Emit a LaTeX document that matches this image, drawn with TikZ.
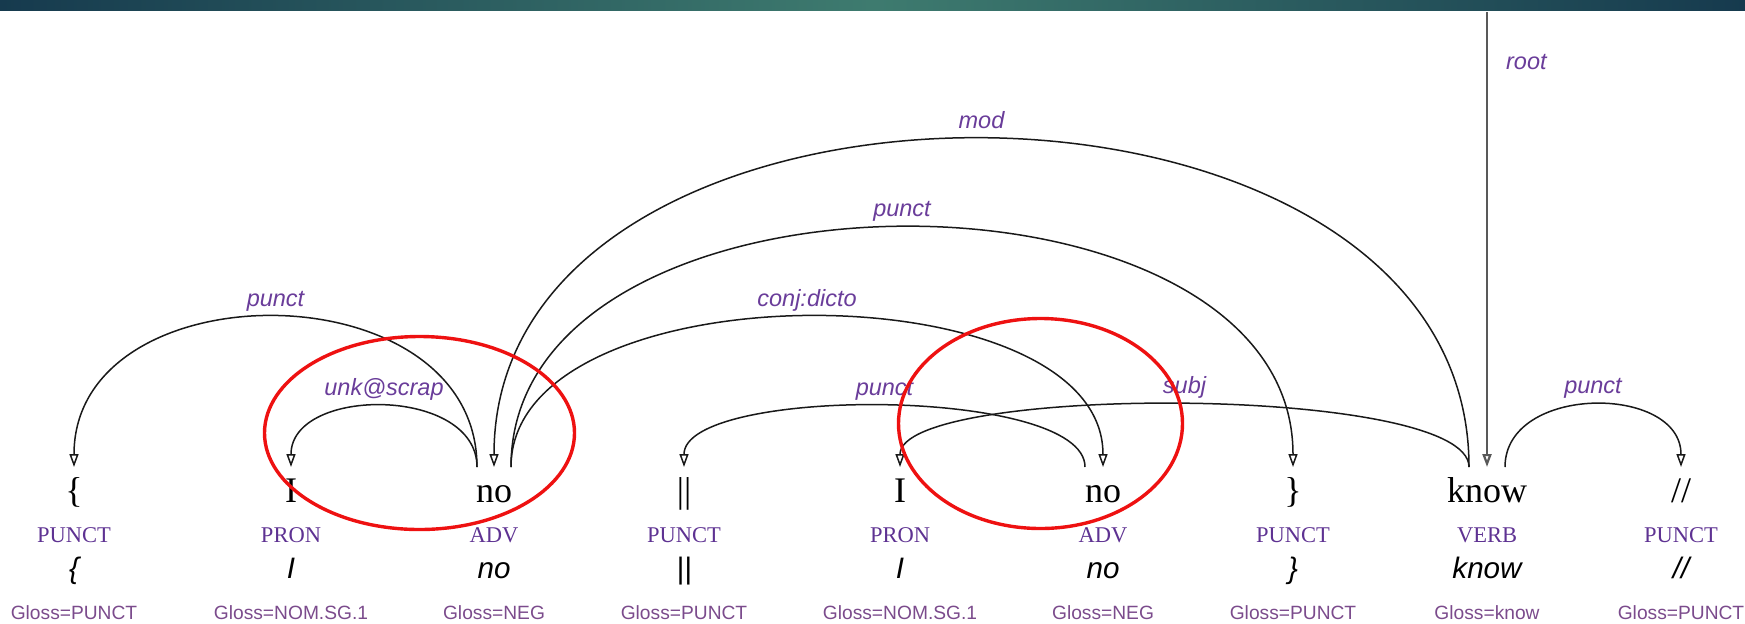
\documentclass[tikz,border=0pt]{standalone}
\usepackage{fontspec}
\setmainfont{Liberation Serif}
\setsansfont{Liberation Sans}
\usepackage{tikz}
\usetikzlibrary{arrows.meta}

\definecolor{bardark}{HTML}{163A4E}
\definecolor{barlight}{HTML}{3E7B6F}
\definecolor{posviolet}{HTML}{5E3292}
\definecolor{deppurple}{HTML}{6A3D9A}
\definecolor{glosspurple}{HTML}{7B4B8C}
\definecolor{ringred}{HTML}{EE1111}

\tikzset{
  word/.style={font=\fontsize{18}{18}\selectfont, anchor=base, inner sep=0pt, text height=12.5pt, text depth=3pt, outer ysep=5pt},
  upos/.style={font=\fontsize{11.25}{12}\selectfont, text=posviolet, anchor=base, inner sep=0pt},
  lemma/.style={font=\sffamily\itshape\fontsize{14.8}{15}\selectfont, anchor=base, inner sep=0pt},
  gloss/.style={font=\sffamily\fontsize{9.6}{10}\selectfont, text=glosspurple, anchor=base, inner sep=0pt},
  deplabel/.style={font=\sffamily\itshape\fontsize{11.75}{12}\selectfont, text=deppurple, inner sep=0pt, anchor=base, yshift=5.5pt},
  dep/.style={draw=black!90, line width=0.75pt, -{Triangle[open, length=6.5pt, width=4.5pt]}},
  ringed/.style={draw=ringred, line width=1.7pt}
}

\begin{document}
\begin{tikzpicture}[x=0.5pt, y=-0.5pt]
\useasboundingbox (0,0) rectangle (1745,623);
\shade [left color=bardark, right color=bardark, middle color=barlight] (0,0) rectangle (1745,10);

\node [word] (lbrace) at (74,502) {\{};
\node [word] (pron1) at (291,502) {I};
\node [word] (neg1) at (494,502) {no};
\node [word] (bars) at (684,502) {||};
\node [word] (pron2) at (900,502) {I};
\node [word] (neg2) at (1103,502) {no};
\node [word] (rbrace) at (1293,502) {\}};
\node [word] (know) at (1487,502) {know};
\node [word] (slash) at (1681,502) {//};

\node [upos] (lbrace-upos) at (74,542) {PUNCT};
\node [upos] (pron1-upos) at (291,542) {PRON};
\node [upos] (neg1-upos) at (494,542) {ADV};
\node [upos] (bars-upos) at (684,542) {PUNCT};
\node [upos] (pron2-upos) at (900,542) {PRON};
\node [upos] (neg2-upos) at (1103,542) {ADV};
\node [upos] (rbrace-upos) at (1293,542) {PUNCT};
\node [upos] (know-upos) at (1487,542) {VERB};
\node [upos] (slash-upos) at (1681,542) {PUNCT};

\node [lemma] (lbrace-lemma) at (74,578) {\{};
\node [lemma] (pron1-lemma) at (291,578) {I};
\node [lemma] (neg1-lemma) at (494,578) {no};
\node [lemma] (bars-lemma) at (684,578) {||};
\node [lemma] (pron2-lemma) at (900,578) {I};
\node [lemma] (neg2-lemma) at (1103,578) {no};
\node [lemma] (rbrace-lemma) at (1293,578) {\}};
\node [lemma] (know-lemma) at (1487,578) {know};
\node [lemma] (slash-lemma) at (1681,578) {//};

\node [gloss] (lbrace-gloss) at (74,619) {Gloss=PUNCT};
\node [gloss] (pron1-gloss) at (291,619) {Gloss=NOM.SG.1};
\node [gloss] (neg1-gloss) at (494,619) {Gloss=NEG};
\node [gloss] (bars-gloss) at (684,619) {Gloss=PUNCT};
\node [gloss] (pron2-gloss) at (900,619) {Gloss=NOM.SG.1};
\node [gloss] (neg2-gloss) at (1103,619) {Gloss=NEG};
\node [gloss] (rbrace-gloss) at (1293,619) {Gloss=PUNCT};
\node [gloss] (know-gloss) at (1487,619) {Gloss=know};
\node [gloss] (slash-gloss) at (1681,619) {Gloss=PUNCT};

\draw [dep] ([xshift=-9pt]know.north) .. controls +(0,-437) and +(0,-437) .. (neg1.north) node [deplabel, midway] {mod};
\draw [dep] ([xshift=8.5pt]neg1.north) .. controls +(0,-319) and +(0,-319) .. (rbrace.north) node [deplabel, midway] {punct};
\draw [dep] ([xshift=-8.5pt]neg1.north) .. controls +(0,-200) and +(0,-200) .. (lbrace.north) node [deplabel, midway] {punct};
\draw [dep] ([xshift=8.5pt]neg1.north) .. controls +(0,-200) and +(0,-200) .. (neg2.north) node [deplabel, midway] {conj:dicto};
\draw [dep] ([xshift=-8.5pt]neg1.north) .. controls +(0,-81) and +(0,-81) .. (pron1.north) node [deplabel, midway] {unk@scrap};
\draw [dep] ([xshift=-9pt]neg2.north) .. controls +(0,-81) and +(0,-81) .. (bars.north) node [deplabel, midway] {punct};
\draw [dep] ([xshift=-9pt]know.north) .. controls +(0,-83) and +(0,-83) .. (pron2.north) node [deplabel, midway] {subj};
\draw [dep] ([xshift=9pt]know.north) .. controls +(0,-83) and +(0,-83) .. (slash.north) node [deplabel, midway] {punct};
\coordinate (roottop) at (1487,12);
\draw [dep, draw=black!65, line width=1.1pt] (roottop) -- (know.north) node [deplabel, pos=0.15, anchor=base west, xshift=9pt] {root};

\draw [ringed] (419.5,433) ellipse [x radius=155, y radius=96.5];
\draw [ringed] (1040.5,423.5) ellipse [x radius=142, y radius=105];
\end{tikzpicture}
\end{document}
